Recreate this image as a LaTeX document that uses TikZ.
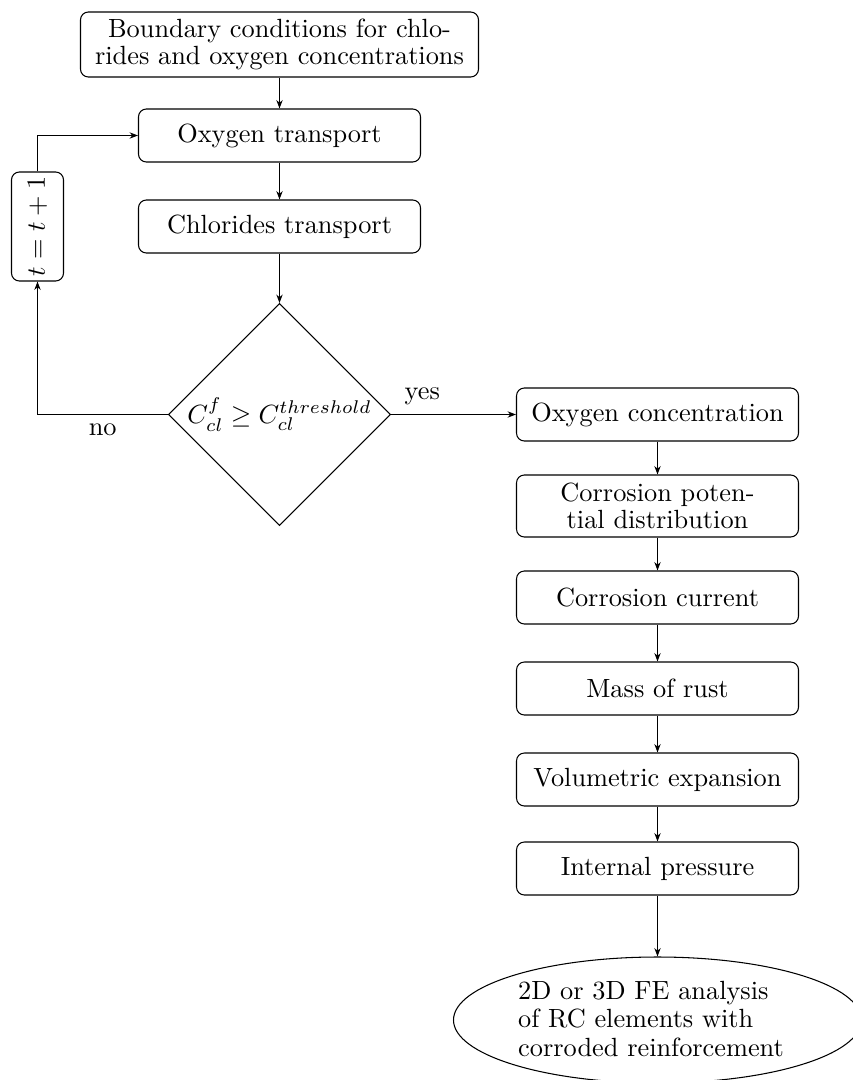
\documentclass[tikz,border=0pt]{standalone}
\usetikzlibrary{shapes.geometric,arrows.meta}
% one drawing unit, used for sizes of nodes
\newcommand\pxu{0.38pt}
\begin{document}
\begin{tikzpicture}[x=0.38pt,y=-0.38pt,
  >={Stealth[length=3.2pt,width=2.4pt]},
  every node/.style={font=\fontsize{10}{10.4}\selectfont},
  stepbox/.style={draw, rounded corners=3pt, align=center,
    minimum width=282*\pxu, minimum height=53*\pxu, inner sep=1pt},
  decision/.style={draw, diamond, inner sep=0pt, minimum size=222*\pxu},
  endnode/.style={draw, ellipse, minimum width=408*\pxu, minimum height=126*\pxu}]
\useasboundingbox (0,0) rectangle (853,1080);

% left column: transport loop
\node[stepbox, minimum width=398*\pxu, minimum height=65*\pxu] (bc) at (279.5,44.5)
  {Boundary conditions for chlo-\\rides and oxygen concentrations};
\node[stepbox] (ot) at (279.5,135.5) {Oxygen transport};
\node[stepbox] (ct) at (279.5,226.5) {Chlorides transport};
\node[decision] (dec) at (279.5,414.5) {$C_{cl}^{f} \geq C_{cl}^{threshold}$};
\node[stepbox, rotate=90, minimum width=109*\pxu, minimum height=52*\pxu] (inc) at (37.5,226.5) {$t=t+1$};

% right column: corrosion chain
\node[stepbox] (oc) at (657.5,414.5) {Oxygen concentration};
\node[stepbox, minimum height=62*\pxu] (cp) at (657.5,506) {Corrosion poten-\\tial distribution};
\node[stepbox] (cc) at (657.5,597.5) {Corrosion current};
\node[stepbox] (mr) at (657.5,688.5) {Mass of rust};
\node[stepbox] (ve) at (657.5,779.5) {Volumetric expansion};
\node[stepbox] (ip) at (657.5,868.5) {Internal pressure};
\node[endnode] (fe) at (657.5,1020) {};
\node[align=left, font=\fontsize{10}{10.8}\selectfont] (fetext) at (651,1019)
  {2D or 3D FE analysis\\of RC elements with\\corroded reinforcement};

% connectors
\draw[->] (bc) -- (ot);
\draw[->] (ot) -- (ct);
\draw[->] (ct) -- (dec);
\draw[->] (dec.west) -| node[below, pos=0.25] {no} (inc.west);
\draw[->] (inc.east) |- (ot.west);
\draw[->] (dec.east) -- node[above, pos=0.25] {yes} (oc.west);
\draw[->] (oc) -- (cp);
\draw[->] (cp) -- (cc);
\draw[->] (cc) -- (mr);
\draw[->] (mr) -- (ve);
\draw[->] (ve) -- (ip);
\draw[->] (ip) -- (fe);
\end{tikzpicture}
\end{document}
